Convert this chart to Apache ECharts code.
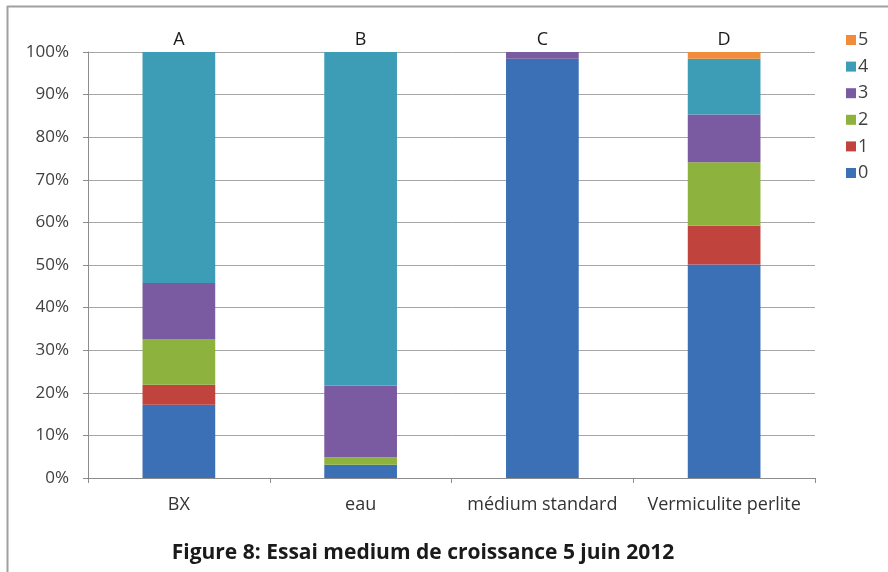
<!DOCTYPE html>
<html>
<head>
<meta charset="utf-8">
<script src="https://cdn.jsdelivr.net/npm/echarts@6/dist/echarts.min.js"></script>
<style>
  html, body { margin: 0; padding: 0; background: #ffffff; }
  #chart { width: 888px; height: 572px; }
</style>
</head>
<body>
<div id="chart"></div>
<script>
// Growth-medium trial: share of plants per score class (0–5), in percent
const categories = ['BX', 'eau', 'médium standard', 'Vermiculite perlite'];
const topLabels = ['A', 'B', 'C', 'D'];
const yTicks = [0, 10, 20, 30, 40, 50, 60, 70, 80, 90, 100];

const score0 = [17.2, 3.1, 98.4, 50.1];
const score1 = [4.7, 0, 0, 9.1];
const score2 = [10.6, 1.8, 0, 14.9];
const score3 = [13.3, 16.8, 1.6, 11.2];
const score4 = [54.2, 78.3, 0, 13.1];
const score5 = [0, 0, 0, 1.6];

const seriesNames = ['0', '1', '2', '3', '4', '5'];
const seriesValues = [score0, score1, score2, score3, score4, score5];
const seriesColors = ['#3b6fb6', '#c0433d', '#8db33e', '#7a5aa0', '#3d9cb6', '#f08c3a'];

const chart = echarts.init(document.getElementById('chart'));

const textFont = '"Open Sans", "Liberation Sans", sans-serif';

chart.setOption({
  animation: false,
  backgroundColor: '#ffffff',
  grid: { left: 88, right: 73, top: 52, bottom: 94 },
  title: {
    text: 'Figure 8: Essai medium de croissance 5 juin 2012',
    left: 418,
    textAlign: 'center',
    top: 538,
    textStyle: { fontFamily: textFont, fontWeight: 'bold', fontSize: 21, color: '#1a1a1a' }
  },
  legend: {
    data: seriesNames.slice().reverse(),
    orient: 'vertical',
    left: 841,
    top: 26,
    itemWidth: 10,
    itemHeight: 10,
    itemGap: 8.6,
    icon: 'rect',
    textStyle: { fontFamily: textFont, fontSize: 18, lineHeight: 18, color: '#404040', padding: [0, 0, 0, -3] }
  },
  xAxis: [
    {
      type: 'category',
      data: categories,
      axisLine: { lineStyle: { color: '#8c8c8c', width: 1 } },
      axisTick: { show: true, length: 5, lineStyle: { color: '#8c8c8c' } },
      axisLabel: { interval: 0, hideOverlap: false, margin: 18, fontFamily: textFont, fontSize: 18, color: '#333333' }
    },
    {
      type: 'category',
      position: 'top',
      data: topLabels,
      axisLine: { show: false },
      axisTick: { show: false },
      axisLabel: { interval: 0, margin: 3, fontFamily: textFont, fontSize: 18, color: '#1a1a1a' }
    }
  ],
  yAxis: {
    type: 'value',
    min: yTicks[0],
    max: yTicks[yTicks.length - 1],
    interval: 10,
    axisLine: { show: true, lineStyle: { color: '#8c8c8c' } },
    axisTick: { show: true, length: 5, inside: false, lineStyle: { color: '#8c8c8c' } },
    axisLabel: { margin: 19, fontFamily: textFont, fontSize: 17, color: '#404040', formatter: '{value}%' },
    splitLine: { show: true, lineStyle: { color: '#a6a6a6', width: 1 } }
  },
  series: seriesNames.map((name, i) => ({
    name: name,
    type: 'bar',
    stack: 'total',
    data: seriesValues[i],
    barWidth: '40%',
    itemStyle: { color: seriesColors[i] },
    emphasis: { disabled: true }
  })),
  graphic: [
    // outer frame lines (left and top)
    { type: 'line', shape: { x1: 7.5, y1: 6, x2: 7.5, y2: 572 }, style: { stroke: '#a0a0a0', lineWidth: 2 } },
    { type: 'line', shape: { x1: 7, y1: 6.5, x2: 888, y2: 6.5 }, style: { stroke: '#a0a0a0', lineWidth: 2 } }
  ]
});
</script>
</body>
</html>
